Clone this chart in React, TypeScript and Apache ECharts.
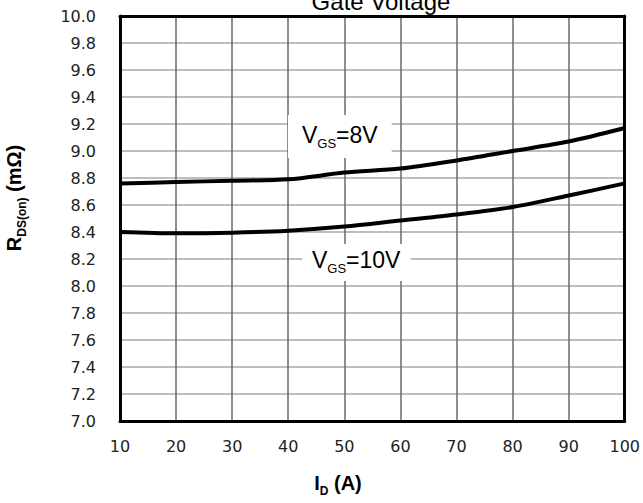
import React, { useEffect, useRef } from "react";
import * as echarts from "echarts";

const currents = [10, 20, 30, 40, 50, 60, 70, 80, 90, 100];
const vgs8 = [8.76, 8.77, 8.78, 8.79, 8.84, 8.87, 8.93, 9.0, 9.07, 9.17];
const vgs10 = [8.4, 8.39, 8.395, 8.41, 8.44, 8.485, 8.53, 8.585, 8.67, 8.76];
const xMin = 10, xMax = 100, xStep = 10;
const yMin = 7.0, yMax = 10.0, yStep = 0.2;

const pairs = (ys: number[]) => currents.map((x, i) => [x, ys[i]]);

export default function App() {
  const ref = useRef<HTMLDivElement>(null);
  useEffect(() => {
    if (!ref.current) return;
    const chart = echarts.init(ref.current, null, { renderer: "svg" });
    const lblFont = "Liberation Sans";
    const tickFont = "DejaVu Sans";
    const vgsRich = {
      v: { fontSize: 23, fontFamily: lblFont, fill: "#000", verticalAlign: "bottom", lineHeight: 27, padding: [0, 0, 4, 0] },
      s: { fontSize: 13, fontFamily: lblFont, fill: "#000", verticalAlign: "bottom", lineHeight: 12 },
    };
    const nameRich = {
      b: { fontSize: 20, fontWeight: "bold", fontFamily: lblFont, fill: "#000", verticalAlign: "bottom", lineHeight: 22, padding: [0, 0, 4, 0] },
      s: { fontSize: 12, fontWeight: "bold", fontFamily: lblFont, fill: "#000", verticalAlign: "bottom", lineHeight: 12 },
    };
    chart.setOption({
      animation: false,
      backgroundColor: "#fff",
      grid: { left: 120, right: 18, top: 16, bottom: 82 },
      xAxis: [
        {
          type: "value", min: xMin, max: xMax, interval: xStep,
          axisLine: { show: true, onZero: false, lineStyle: { color: "#000", width: 3 } },
          axisTick: { show: false },
          splitLine: { show: true, lineStyle: { color: "#6a6a6a", width: 1.5 } },
          axisLabel: { margin: 17, fontSize: 16, color: "#222", fontFamily: tickFont },
        },
        {
          type: "value", position: "top", min: xMin, max: xMax, interval: xStep,
          axisLine: { show: true, onZero: false, lineStyle: { color: "#000", width: 3 } },
          axisTick: { show: false }, axisLabel: { show: false }, splitLine: { show: false },
        },
      ],
      yAxis: [
        {
          type: "value", min: yMin, max: yMax, interval: yStep,
          axisLine: { show: true, onZero: false, lineStyle: { color: "#000", width: 3 } },
          axisTick: { show: false },
          splitLine: { show: true, lineStyle: { color: "#a8a8a8", width: 1.5 } },
          axisLabel: {
            margin: 24, fontSize: 16, color: "#222", fontFamily: tickFont,
            formatter: (v: number) => v.toFixed(1),
          },
        },
        {
          type: "value", position: "right", min: yMin, max: yMax, interval: yStep,
          axisLine: { show: true, onZero: false, lineStyle: { color: "#000", width: 3 } },
          axisTick: { show: false }, axisLabel: { show: false }, splitLine: { show: false },
        },
      ],
      series: [
        {
          type: "line", name: "VGS=8V", data: pairs(vgs8), smooth: 0.3, showSymbol: false,
          lineStyle: { color: "#000", width: 4 }, z: 3,
        },
        {
          type: "line", name: "VGS=10V", data: pairs(vgs10), smooth: 0.3, showSymbol: false,
          lineStyle: { color: "#000", width: 4 }, z: 3,
        },
      ],
      graphic: [
        {
          type: "text", x: 381, y: 13,
          style: {
            text: "Gate Voltage", align: "center", verticalAlign: "bottom",
            fontSize: 24, fontFamily: lblFont, fill: "#000",
          },
        },
        {
          type: "text", x: 288, y: 115, z: 10,
          style: {
            text: "{v|V}{s|GS}{v|=8V}",
            backgroundColor: "#fff", padding: [8, 14, 8, 14],
            rich: vgsRich,
          },
        },
        {
          type: "text", x: 302, y: 244, z: 10,
          style: {
            text: "{v|V}{s|GS}{v|=10V}",
            backgroundColor: "#fff", padding: [4, 10, 6, 10],
            rich: vgsRich,
          },
        },
        {
          type: "text", x: 338, y: 486,
          style: {
            text: "{b|I}{s|D}{b| (A)}", align: "center", verticalAlign: "middle",
            rich: nameRich,
          },
        },
        {
          type: "text", x: 17, y: 198, rotation: Math.PI / 2,
          style: {
            text: "{b|R}{s|DS(on)}{b| (mΩ)}", align: "center", verticalAlign: "middle",
            rich: nameRich,
          },
        },
      ],
    });
    return () => chart.dispose();
  }, []);
  return (
    <div
      ref={ref}
      style={{ position: "fixed", left: 0, top: 0, width: 643, height: 503, background: "#fff" }}
    />
  );
}
